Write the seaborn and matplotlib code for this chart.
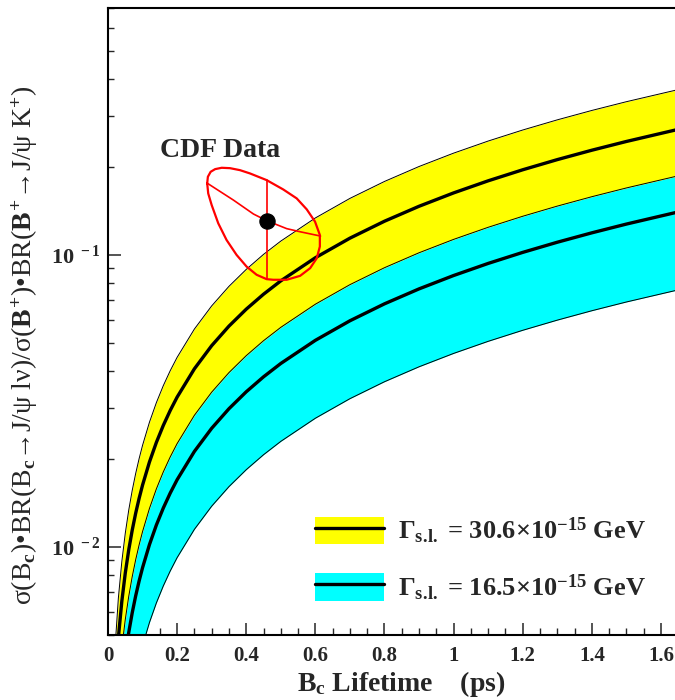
import matplotlib
matplotlib.use('Agg')
import matplotlib.pyplot as plt
import seaborn as sns
from matplotlib.patches import Patch
from matplotlib.lines import Line2D
from matplotlib.legend_handler import HandlerTuple
from matplotlib.ticker import FixedLocator, LogLocator, NullFormatter, MultipleLocator

# B_c lifetime (ps) grid
lifetime = [0.02, 0.03, 0.04, 0.05, 0.06, 0.07, 0.08, 0.09, 0.10, 0.12, 0.14,
            0.16, 0.18, 0.20, 0.25, 0.30, 0.35, 0.40, 0.45, 0.50, 0.60, 0.70,
            0.80, 0.90, 1.00, 1.10, 1.20, 1.30, 1.40, 1.50, 1.65]

# Gamma_sl = 30.6e-15 GeV band (yellow)
yellow_hi = [0.00446, 0.00669, 0.00892, 0.01115, 0.01338, 0.01561, 0.01784, 0.02007,
             0.0223, 0.02676, 0.03122, 0.03568, 0.04014, 0.0446, 0.05575, 0.0669,
             0.07805, 0.0892, 0.1004, 0.1115, 0.1338, 0.1561, 0.1784, 0.2007,
             0.223, 0.2453, 0.2676, 0.2899, 0.3122, 0.3345, 0.368]
yellow_mid = [0.00326, 0.00489, 0.00652, 0.00815, 0.00978, 0.01141, 0.01304, 0.01467,
              0.0163, 0.01956, 0.02282, 0.02608, 0.02934, 0.0326, 0.04075, 0.0489,
              0.05705, 0.0652, 0.07335, 0.0815, 0.0978, 0.1141, 0.1304, 0.1467,
              0.163, 0.1793, 0.1956, 0.2119, 0.2282, 0.2445, 0.269]
yellow_lo = [0.00226, 0.00339, 0.00452, 0.00565, 0.00678, 0.00791, 0.00904, 0.01017,
             0.0113, 0.01356, 0.01582, 0.01808, 0.02034, 0.0226, 0.02825, 0.0339,
             0.03955, 0.0452, 0.05085, 0.0565, 0.0678, 0.0791, 0.0904, 0.1017,
             0.113, 0.1243, 0.1356, 0.1469, 0.1582, 0.1695, 0.1865]

# Gamma_sl = 16.5e-15 GeV band (cyan), upper edge is the yellow lower edge
cyan_mid = [0.0017, 0.00255, 0.0034, 0.00425, 0.0051, 0.00595, 0.0068, 0.00765,
            0.0085, 0.0102, 0.0119, 0.0136, 0.0153, 0.017, 0.02125, 0.0255,
            0.02975, 0.034, 0.03825, 0.0425, 0.051, 0.0595, 0.068, 0.0765,
            0.085, 0.0935, 0.102, 0.1105, 0.119, 0.1275, 0.1403]
cyan_lo = [0.00092, 0.00138, 0.00184, 0.0023, 0.00276, 0.00322, 0.00368, 0.00414,
           0.0046, 0.00552, 0.00644, 0.00736, 0.00828, 0.0092, 0.0115, 0.0138,
           0.0161, 0.0184, 0.0207, 0.023, 0.0276, 0.0322, 0.0368, 0.0414,
           0.046, 0.0506, 0.0552, 0.0598, 0.0644, 0.069, 0.0759]

# CDF measurement
cdf_tau = [0.459]
cdf_ratio = [0.131]
bar_tau = [0.459, 0.459]
bar_ratio = [0.0826, 0.180]

contour_tau = [0.287, 0.289, 0.297, 0.310, 0.329, 0.353, 0.382, 0.411, 0.459, 0.507,
               0.546, 0.575, 0.599, 0.613, 0.613, 0.604, 0.585, 0.556, 0.517, 0.478,
               0.459, 0.430, 0.401, 0.372, 0.343, 0.319, 0.300, 0.290, 0.287]
contour_ratio = [0.1757, 0.1851, 0.1925, 0.1966, 0.1987, 0.1981, 0.1950, 0.1900, 0.1803,
                 0.1675, 0.1561, 0.1432, 0.1300, 0.1170, 0.1068, 0.0974, 0.0901, 0.0848,
                 0.0822, 0.0822, 0.0826, 0.0855, 0.0912, 0.1000, 0.1125, 0.1283, 0.1481,
                 0.1623, 0.1757]

cross_tau = [0.287, 0.363, 0.421, 0.459, 0.517, 0.556, 0.615]
cross_ratio = [0.176, 0.154, 0.138, 0.131, 0.123, 0.120, 0.116]

x_ticks = [0, 0.2, 0.4, 0.6, 0.8, 1.0, 1.2, 1.4, 1.6]
x_ticklabels = ['0', '0.2', '0.4', '0.6', '0.8', '1', '1.2', '1.4', '1.6']
y_ticks = [0.01, 0.1]
y_ticklabels = [r'$10^{\,\,-2}$', r'$10^{\,\,-1}$']

legend_labels = [r'Γ$_{\mathrm{s.\!l.}}$ = 30.6×10$^{-15}$ GeV',
                 r'Γ$_{\mathrm{s.\!l.}}$ = 16.5×10$^{-15}$ GeV']

sns.set_style('ticks')
plt.rcParams['font.family'] = ['Liberation Serif', 'DejaVu Serif']
plt.rcParams['font.weight'] = 'bold'
plt.rcParams['mathtext.fontset'] = 'custom'
plt.rcParams['mathtext.rm'] = 'Liberation Serif:bold'
plt.rcParams['mathtext.it'] = 'Liberation Serif:bold'
plt.rcParams['mathtext.bf'] = 'Liberation Serif:bold'

fig = plt.figure(figsize=(6.75, 7), dpi=100)
ax = fig.add_axes([108 / 675, 65 / 700, 1.65 * 345.6 / 675, 627 / 700])
ax.set_yscale('log')

# bands
ax.fill_between(lifetime, cyan_lo, yellow_lo, color='#00ffff', lw=0, zorder=1)
ax.fill_between(lifetime, yellow_lo, yellow_hi, color='#ffff00', lw=0, zorder=2)
for edge in [yellow_hi, yellow_lo, cyan_lo]:
    ax.plot(lifetime, edge, color='black', lw=0.7, zorder=3)
sns.lineplot(x=lifetime, y=yellow_mid, color='black', lw=2.4, ax=ax, zorder=4)
sns.lineplot(x=lifetime, y=cyan_mid, color='black', lw=2.4, ax=ax, zorder=4)

# CDF data
ax.plot(contour_tau, contour_ratio, color='red', lw=1.6, zorder=5)
ax.plot(cross_tau, cross_ratio, color='red', lw=1.2, zorder=5)
ax.plot(bar_tau, bar_ratio, color='red', lw=1.2, zorder=5)
sns.scatterplot(x=cdf_tau, y=cdf_ratio, color='black', s=120, edgecolor='black',
                ax=ax, zorder=6)
ax.text(0.15, 0.216, 'CDF Data', fontsize=20, fontweight='bold')

ax.set_xlim(0, 1.65)
ax.set_ylim(0.005, 0.7)

ax.xaxis.set_major_locator(FixedLocator(x_ticks))
ax.set_xticklabels(x_ticklabels)
ax.xaxis.set_minor_locator(MultipleLocator(0.05))
ax.yaxis.set_major_locator(FixedLocator(y_ticks))
ax.set_yticklabels(y_ticklabels)
ax.yaxis.set_minor_locator(LogLocator(base=10, subs=[2, 3, 4, 5, 6, 7, 8, 9]))
ax.yaxis.set_minor_formatter(NullFormatter())

ax.tick_params(axis='x', which='major', direction='in', length=9, width=1.1,
               labelsize=15, pad=8, top=False)
ax.tick_params(axis='x', which='minor', direction='in', length=5, width=1.0, top=False)
ax.tick_params(axis='y', which='major', direction='in', length=9, width=1.1,
               labelsize=16, pad=5, right=False)
ax.tick_params(axis='y', which='minor', direction='in', length=4.5, width=1.0, right=False)
for sp in ax.spines.values():
    sp.set_linewidth(1.5)
    sp.set_color('black')

ax.set_xlabel(r'B$_{c}$ Lifetime    (ps)', fontsize=20, fontweight='bold', va='center')
ax.xaxis.set_label_coords(0.514, -0.078)
ax.set_ylabel(r'σ(B$_c$)•BR(B$_c$→J/ψ lν)/σ($B^{+}$)•BR($B^{+}$→J/ψ K$^{+}$)',
              fontsize=20, va='center')
ax.yaxis.set_label_coords(-0.146, 0.4625)

handles = [(Patch(facecolor='#ffff00', edgecolor='none'), Line2D([], [], color='black', lw=2.4)),
           (Patch(facecolor='#00ffff', edgecolor='none'), Line2D([], [], color='black', lw=2.4))]
ax.legend(handles, legend_labels, handler_map={tuple: HandlerTuple(ndivide=1, pad=0)},
          loc='upper left', bbox_to_anchor=(315 / 675, 1 - 516 / 700),
          bbox_transform=fig.transFigure, frameon=False, borderpad=0, borderaxespad=0,
          handlelength=2.6, handleheight=1.25, handletextpad=0.55, labelspacing=1.0,
          prop={'family': ['Liberation Serif', 'DejaVu Serif'], 'weight': 'bold', 'size': 19})

fig.savefig('out.png', dpi=100)
